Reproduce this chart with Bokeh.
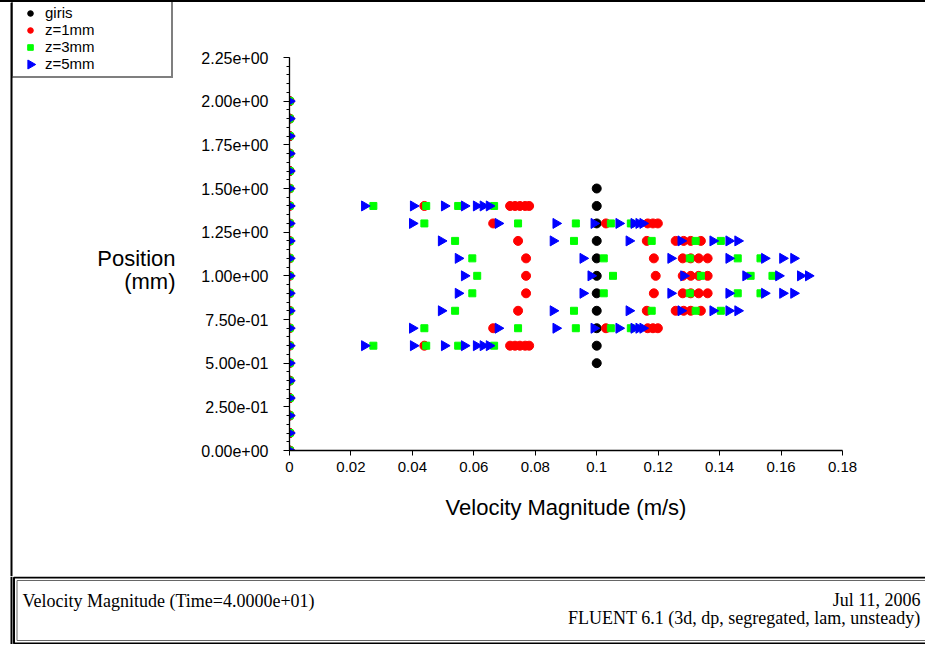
import numpy as np
from bokeh.plotting import figure
from bokeh.models import (FixedTicker, CustomJSTickFormatter, Label, Legend,
                          LegendItem, Span)
from bokeh.layouts import column, row
from bokeh.embed import file_html
from bokeh.resources import INLINE

# ---------------- data ----------------
series_names = ["giris", "z=1mm", "z=3mm", "z=5mm"]

# wall nodes: every series has points at velocity 0 along the axis
wall_y = [0.0, 0.1, 0.2, 0.3, 0.4, 0.5, 0.6, 0.7, 0.8, 0.9, 1.0,
          1.1, 1.2, 1.3, 1.4, 1.5, 1.6, 1.7, 1.8, 1.9, 2.0]

# inlet profile (giris)
giris_y = [0.0, 0.1, 0.2, 0.3, 0.4, 0.5, 0.6, 0.7, 0.8, 0.9, 1.0,
           1.1, 1.2, 1.3, 1.4, 1.5, 1.6, 1.7, 1.8, 1.9, 2.0]
giris_x = [0.0, 0.0, 0.0, 0.0, 0.0, 0.1, 0.1, 0.1, 0.1, 0.1, 0.1,
           0.1, 0.1, 0.1, 0.1, 0.1, 0.0, 0.0, 0.0, 0.0, 0.0]

# z = 1 mm : velocity values found on each row (position -> velocities)
z1_rows = {
    1.4: [0.0439, 0.0718, 0.0734, 0.0750, 0.0767, 0.0780],
    1.3: [0.0663, 0.1030, 0.1166, 0.1183, 0.1199],
    1.2: [0.0744, 0.1163, 0.1257, 0.1283, 0.1306, 0.1339],
    1.1: [0.0770, 0.1186, 0.1280, 0.1306, 0.1332, 0.1361],
    1.0: [0.0770, 0.1192, 0.1280, 0.1306, 0.1332, 0.1361],
    0.9: [0.0770, 0.1186, 0.1280, 0.1306, 0.1332, 0.1361],
    0.8: [0.0744, 0.1163, 0.1257, 0.1283, 0.1306, 0.1339],
    0.7: [0.0663, 0.1030, 0.1166, 0.1183, 0.1199],
    0.6: [0.0439, 0.0718, 0.0734, 0.0750, 0.0767, 0.0780],
}

# z = 3 mm
z3_rows = {
    1.4: [0.0273, 0.0445, 0.0549, 0.0666],
    1.3: [0.0439, 0.0744, 0.0932, 0.1046, 0.1111],
    1.2: [0.0539, 0.0926, 0.1179, 0.1322, 0.1404],
    1.1: [0.0595, 0.1023, 0.1303, 0.1459, 0.1533],
    1.0: [0.0611, 0.1053, 0.1339, 0.1501, 0.1572],
    0.9: [0.0595, 0.1023, 0.1303, 0.1459, 0.1533],
    0.8: [0.0539, 0.0926, 0.1179, 0.1322, 0.1404],
    0.7: [0.0439, 0.0744, 0.0932, 0.1046, 0.1111],
    0.6: [0.0273, 0.0445, 0.0549, 0.0666],
}

# z = 5 mm
z5_rows = {
    1.4: [0.0244, 0.0403, 0.0504, 0.0569, 0.0608, 0.0630, 0.0650],
    1.3: [0.0400, 0.0679, 0.0867, 0.0991, 0.1072, 0.1121, 0.1137, 0.1150],
    1.2: [0.0494, 0.0858, 0.1105, 0.1274, 0.1378, 0.1430, 0.1459],
    1.1: [0.0549, 0.0955, 0.1241, 0.1430, 0.1546, 0.1605, 0.1641],
    1.0: [0.0569, 0.0981, 0.1283, 0.1485, 0.1592, 0.1663, 0.1689],
    0.9: [0.0549, 0.0955, 0.1241, 0.1430, 0.1546, 0.1605, 0.1641],
    0.8: [0.0494, 0.0858, 0.1105, 0.1274, 0.1378, 0.1430, 0.1459],
    0.7: [0.0400, 0.0679, 0.0867, 0.0991, 0.1072, 0.1121, 0.1137, 0.1150],
    0.6: [0.0244, 0.0403, 0.0504, 0.0569, 0.0608, 0.0630, 0.0650],
}

x_ticks = [0, 0.02, 0.04, 0.06, 0.08, 0.1, 0.12, 0.14, 0.16, 0.18]
y_ticks = [0, 0.25, 0.5, 0.75, 1.0, 1.25, 1.5, 1.75, 2.0, 2.25]

x_title = "Velocity Magnitude (m/s)"
y_title_1 = "Position"
y_title_2 = "(mm)"
title_left = "Velocity Magnitude  (Time=4.0000e+01)"
date_text = "Jul 11, 2006"
fluent_text = "FLUENT 6.1 (3d, dp, segregated, lam, unsteady)"


def flatten(rows):
    xs = [0.0] * len(wall_y)
    ys = list(wall_y)
    for pos, vals in rows.items():
        xs += vals
        ys += [pos] * len(vals)
    return xs, ys


z1_x, z1_y = flatten(z1_rows)
z3_x, z3_y = flatten(z3_rows)
z5_x, z5_y = flatten(z5_rows)

SANS = "Liberation Sans"
SERIF = "Liberation Serif"

styles = [
    dict(marker="circle", size=9, fill_color="black", line_color="black"),
    dict(marker="circle", size=9, fill_color="#ff0000", line_color="#ff0000"),
    dict(marker="square", size=7, fill_color="#00ff00", line_color="#00ff00"),
    dict(marker="triangle", size=10, angle=-np.pi / 2,
         fill_color="#0000ff", line_color="#0000ff"),
]

TOP_H = 574      # height of the upper row
LEFT_W = 198     # width of the left (legend / y title) panel
MAIN_W = 727

# ---------------- main figure ----------------
p = figure(width=MAIN_W, height=TOP_H, x_range=(0, 0.18), y_range=(0, 2.25),
           output_backend="svg", toolbar_location=None, title=None,
           min_border_left=90, min_border_right=83,
           min_border_top=55, min_border_bottom=126)
p.frame_align = False
p.outline_line_color = None
p.grid.visible = False

p.scatter(giris_x, giris_y, **styles[0])
p.scatter(z1_x, z1_y, **styles[1])
p.scatter(z3_x, z3_y, **styles[2])
p.scatter(z5_x, z5_y, **styles[3])

p.xaxis.ticker = FixedTicker(ticks=x_ticks, minor_ticks=[])
p.xaxis.formatter = CustomJSTickFormatter(code="""
    if (tick === 0) { return "0"; }
    return String(parseFloat(tick.toFixed(2)));
""")
p.yaxis.ticker = FixedTicker(ticks=y_ticks,
                             minor_ticks=list(np.round(np.arange(0, 2.2501, 0.05), 2)))
p.yaxis.formatter = CustomJSTickFormatter(code="""
    var s = tick.toExponential(2);
    return s.replace(/e([+-])(\\d)$/, function(m, a, b) { return "e" + a + "0" + b; });
""")
for ax in (p.xaxis[0], p.yaxis[0]):
    ax.axis_line_color = "black"
    ax.axis_line_width = 1.3
    ax.major_tick_line_color = "black"
    ax.minor_tick_line_color = "black"
    ax.major_tick_in = 0
    ax.minor_tick_in = 0
    ax.major_label_text_font = SANS
    ax.major_label_text_color = "black"
p.xaxis.major_label_text_font_size = "15px"
p.yaxis.major_label_text_font_size = "16px"
p.xaxis.major_tick_out = 5
p.yaxis.major_tick_out = 6
p.yaxis.minor_tick_out = 3
p.yaxis.major_label_standoff = 15
p.xaxis.major_label_standoff = 6

p.xaxis.axis_label = x_title
p.xaxis.axis_label_text_font = SANS
p.xaxis.axis_label_text_font_size = "22px"
p.xaxis.axis_label_text_font_style = "normal"
p.xaxis.axis_label_text_color = "black"
p.xaxis.axis_label_standoff = 20

# ---------------- left panel: legend + y title ----------------
lf = figure(width=LEFT_W, height=TOP_H, x_range=(0, LEFT_W), y_range=(0, TOP_H),
            output_backend="svg", toolbar_location=None, title=None,
            x_axis_location=None, y_axis_location=None, min_border=0)
lf.frame_align = False
lf.outline_line_color = None
lf.grid.visible = False
lf.add_layout(Span(location=11, dimension="height", line_color="black",
                   line_width=2))

# legend-only renderers (no visible points) carrying the series styles
legend_styles = [dict(st) for st in styles]
legend_styles[3].update(fill_alpha=0, line_alpha=0)   # key drawn rotated below
dummies = [lf.scatter(x=[np.nan], y=[np.nan], **st) for st in legend_styles]
legend = Legend(items=[LegendItem(label=n, renderers=[r])
                       for n, r in zip(series_names, dummies)],
                location=(11, TOP_H - 76), orientation="vertical",
                padding=4, spacing=0, margin=0,
                glyph_width=26, glyph_height=14, label_height=14,
                label_width=122, label_standoff=2,
                label_text_font=SANS, label_text_font_size="15px",
                label_text_color="black",
                border_line_color="black", border_line_width=2,
                background_fill_alpha=0)
lf.add_layout(legend)
# right-pointing key for the z=5mm entry (legend keys ignore marker angle)
lf.scatter(x=[30], y=[TOP_H - 62], marker="triangle", size=9,
           angle=-np.pi / 2, fill_color="#0000ff", line_color="#0000ff")

lf.add_layout(Label(x=175, y=TOP_H - 256, text=y_title_1,
                    text_align="right", text_baseline="middle",
                    text_font=SANS, text_font_size="22px", text_color="black"))
lf.add_layout(Label(x=175, y=TOP_H - 279, text=y_title_2,
                    text_align="right", text_baseline="middle",
                    text_font=SANS, text_font_size="22px", text_color="black"))

# ---------------- bottom info panel ----------------
BOT_H = 68
BOT_W = LEFT_W + MAIN_W
q = figure(width=BOT_W, height=BOT_H, x_range=(0, BOT_W), y_range=(0, BOT_H),
           output_backend="svg", toolbar_location=None, title=None,
           x_axis_location=None, y_axis_location=None, min_border=0)
q.frame_align = False
q.outline_line_color = None
q.grid.visible = False
q.add_layout(Span(location=11, dimension="height", line_color="black",
                  line_width=2))
q.quad(left=[13.5], right=[BOT_W + 5], bottom=[1], top=[67],
       fill_color=None, line_color="black", line_width=2)
q.quad(left=[16.5], right=[BOT_W + 5], bottom=[4], top=[64],
       fill_color=None, line_color="#666666", line_width=1)
q.add_layout(Label(x=22, y=44, text=title_left, text_align="left",
                   text_baseline="middle", text_font=SERIF,
                   text_font_size="18px", text_color="black"))
q.add_layout(Label(x=BOT_W - 5, y=45, text=date_text, text_align="right",
                   text_baseline="middle", text_font=SERIF,
                   text_font_size="18px", text_color="black"))
q.add_layout(Label(x=BOT_W - 5, y=27, text=fluent_text, text_align="right",
                   text_baseline="middle", text_font=SERIF,
                   text_font_size="18px", text_color="black"))

layout = column(row(lf, p, spacing=0), q, spacing=0,
                styles={"border-top": "2px solid black"})

open("out.html", "w").write(file_html(layout, INLINE))
